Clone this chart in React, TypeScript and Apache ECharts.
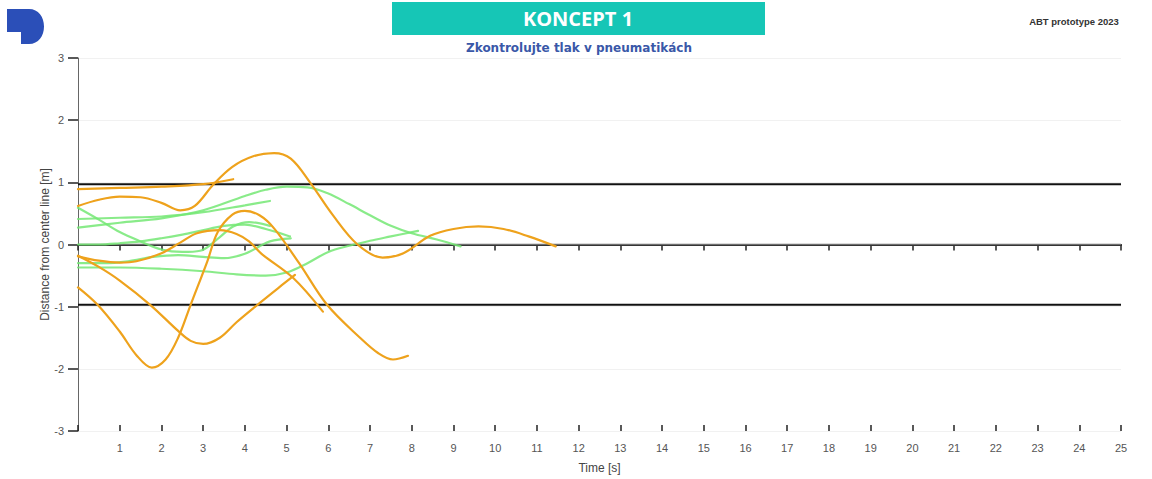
import React, { useEffect, useRef } from "react";
import * as echarts from "echarts";

// Lateral offset from the lane centre over time, one array per run
const orange1: number[][] = [[0, 0.89], [1, 0.91], [2, 0.93], [3, 0.97], [3.72, 1.05]];
const orange2: number[][] = [[0, 0.62], [0.5, 0.72], [1, 0.77], [1.5, 0.76], [2, 0.67], [2.45, 0.55], [2.8, 0.62], [3.25, 0.97], [3.7, 1.25], [4.2, 1.42], [4.7, 1.47], [5.1, 1.38], [5.56, 1.0], [6.1, 0.48], [6.7, 0.0], [7.3, -0.21], [7.8, -0.14], [8.44, 0.14], [9, 0.25], [9.6, 0.29], [10.2, 0.25], [10.8, 0.13], [11.45, -0.03]];
const orange3: number[][] = [[0, -0.19], [0.5, -0.26], [1, -0.29], [1.4, -0.27], [2, -0.14], [2.45, 0.03], [2.85, 0.18], [3.4, 0.23], [3.8, 0.17], [4.1, 0.05], [4.4, -0.15], [5.16, -0.54], [5.87, -1.08]];
const orange4: number[][] = [[0, -0.69], [0.47, -0.97], [1, -1.4], [1.4, -1.78], [1.77, -1.98], [2.1, -1.85], [2.4, -1.5], [2.7, -0.97], [3.1, -0.27], [3.35, 0.2], [3.7, 0.48], [4.0, 0.54], [4.35, 0.47], [4.7, 0.26], [5.3, -0.3], [5.97, -0.97], [6.76, -1.5], [7.2, -1.75], [7.55, -1.85], [7.91, -1.79]];
const orange5: number[][] = [[0, -0.18], [0.5, -0.36], [1, -0.58], [1.73, -0.97], [2.4, -1.39], [2.7, -1.55], [3.0, -1.6], [3.4, -1.5], [3.8, -1.25], [4.3, -0.97], [4.8, -0.7], [5.2, -0.49]];

const green1: number[][] = [[0, 0.59], [0.5, 0.4], [1, 0.2], [1.5, 0.05], [2, -0.08], [2.5, -0.12], [2.93, -0.1], [3.4, 0.12], [3.72, 0.29], [4.1, 0.36], [4.6, 0.3]];
const green2: number[][] = [[0, 0.41], [1, 0.43], [2, 0.45], [3, 0.52], [4, 0.63], [4.6, 0.7]];
const green3: number[][] = [[0, 0.27], [1, 0.35], [2, 0.42], [3, 0.55], [4, 0.78], [4.5, 0.88], [5, 0.93], [5.5, 0.92], [6, 0.82], [6.5, 0.65], [7, 0.47], [7.5, 0.3], [8, 0.18], [8.6, 0.08], [9.17, -0.03]];
const green4: number[][] = [[0, 0.0], [0.5, 0.0], [1, 0.02], [1.5, 0.05], [2, 0.1], [2.5, 0.16], [2.93, 0.22], [3.5, 0.3], [4.0, 0.32], [4.5, 0.25], [5.08, 0.13]];
const green5: number[][] = [[0, -0.3], [0.6, -0.3], [1.2, -0.27], [1.8, -0.2], [2.4, -0.17], [3, -0.2], [3.5, -0.22], [4, -0.15], [4.6, 0.05], [5.1, 0.1]];
const green6: number[][] = [[0, -0.37], [1, -0.37], [2, -0.39], [3, -0.43], [3.8, -0.48], [4.5, -0.5], [5, -0.45], [5.5, -0.3], [6, -0.12], [6.5, -0.02], [7, 0.06], [7.5, 0.13], [8.15, 0.22]];

const orangeRuns = [orange1, orange2, orange3, orange4, orange5];
const greenRuns = [green1, green2, green3, green4, green5, green6];

// Lane limits and centre line
const laneLimit = 0.97;
const timeRange = [0, 25];

const title = "KONCEPT 1";
const subtitle = "Zkontrolujte tlak v pneumatikách";
const badge = "ABT prototype 2023";

// "D" mark: flat left stem with a notch at the bottom, rounded right side
const logoPath =
  "M6 9 L28 9 C37.5 9 43 17 43 26.5 C43 36 37.5 44 28 44 L20 44 L20 32 L6 32 Z";
echarts.graphic.registerShape("logo", echarts.graphic.extendPath(logoPath, {}) as any);

export default function App() {
  const ref = useRef<HTMLDivElement>(null);

  useEffect(() => {
    if (!ref.current) return;
    const chart = echarts.init(ref.current, undefined, { renderer: "svg" });

    const refLine = (y: number, color: string, width: number) => ({
      type: "line",
      data: [[timeRange[0], y], [timeRange[1], y]],
      symbol: "none",
      silent: true,
      lineStyle: { color, width },
      z: 1,
    });

    const runSeries = (data: number[][], color: string, opacity: number, z: number) => ({
      type: "line",
      data,
      smooth: 0.35,
      symbol: "none",
      lineStyle: { color, width: 2.2, opacity, cap: "round" },
      z,
    });

    chart.setOption({
      animation: false,
      backgroundColor: "#ffffff",
      textStyle: { fontFamily: "Liberation Sans" },
      grid: { left: 78, right: 31, top: 58, bottom: 45 },
      xAxis: [
        {
          type: "value",
          min: 0,
          max: 25,
          interval: 1,
          name: "Time [s]",
          nameLocation: "middle",
          nameGap: 31,
          nameTextStyle: { color: "#444", fontSize: 12 },
          axisLine: { show: true, lineStyle: { color: "#222", width: 2 } },
          axisTick: { show: true, length: 6, lineStyle: { color: "#222", width: 1.5 } },
          axisLabel: {
            color: "#555",
            fontSize: 11,
            margin: 11,
            formatter: (v: number) => (v === 0 ? "" : String(v)),
          },
          splitLine: { show: false },
        },
        {
          type: "value",
          min: 0,
          max: 25,
          interval: 1,
          position: "bottom",
          offset: 0,
          axisLine: { show: false },
          axisTick: { show: true, inside: true, length: 6, lineStyle: { color: "#222", width: 1.5 } },
          axisLabel: { show: false },
          splitLine: { show: false },
        },
      ],
      yAxis: {
        type: "value",
        min: -3,
        max: 3,
        interval: 1,
        name: "Distance from center line [m]",
        nameLocation: "middle",
        nameGap: 27,
        nameMoveOverlap: false,
        nameTextStyle: { color: "#444", fontSize: 12 },
        axisLine: { show: true, lineStyle: { color: "#666", width: 1 } },
        axisTick: { show: true, length: 10, lineStyle: { color: "#222", width: 1.5 } },
        axisLabel: { color: "#555", fontSize: 11, margin: 14 },
        splitLine: { show: true, lineStyle: { color: "#f1f1f1", width: 1 } },
      },
      graphic: [
        { type: "logo", x: 1, y: 0, scaleX: 1, scaleY: 1, style: { fill: "#2b4fb8" } },
        {
          type: "rect",
          shape: { x: 392, y: 2, width: 373, height: 33 },
          style: { fill: "#16c6b6" },
        },
        {
          type: "text",
          x: 578,
          y: 18.5,
          style: {
            text: title,
            fill: "#ffffff",
            font: "bold 20px 'Open Sans'",
            align: "center",
            verticalAlign: "middle",
          },
        },
        {
          type: "text",
          x: 579,
          y: 48,
          style: {
            text: subtitle,
            fill: "#3a58a8",
            font: "bold 12px 'DejaVu Sans'",
            align: "center",
            verticalAlign: "middle",
          },
        },
        {
          type: "text",
          x: 1074,
          y: 21,
          style: {
            text: badge,
            fill: "#333333",
            font: "bold 9.5px 'Liberation Sans'",
            align: "center",
            verticalAlign: "middle",
          },
        },
      ],
      series: [
        refLine(laneLimit, "#111111", 2),
        refLine(-laneLimit, "#111111", 2),
        refLine(0, "#6f6f6f", 1.5),
        ...greenRuns.map((d) => runSeries(d, "#74e874", 0.85, 2)),
        ...orangeRuns.map((d) => runSeries(d, "#eea21c", 1, 3)),
      ],
    });

    return () => chart.dispose();
  }, []);

  return (
    <div
      ref={ref}
      style={{ position: "fixed", left: 0, top: 0, width: 1152, height: 479 }}
    />
  );
}
